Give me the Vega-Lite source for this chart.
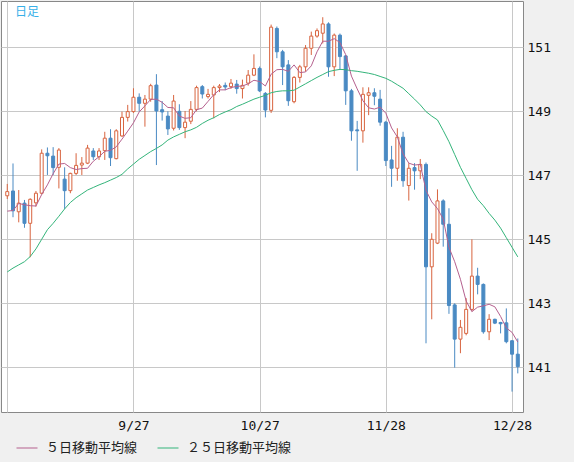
{
  "$schema": "https://vega.github.io/schema/vega-lite/v6.json",
  "width": 522,
  "height": 411,
  "autosize": {"type": "none"},
  "padding": {"left": 1, "top": 1, "right": 51, "bottom": 50},
  "background": "#f0f0f0",
  "title": {"text": "日足", "anchor": "start", "frame": "group", "orient": "bottom", "baseline": "top", "offset": -448, "dx": 14, "font": "Noto Sans CJK JP", "fontSize": 12, "fontWeight": "normal", "color": "#38b0e8"},
  "config": {
    "view": {"fill": "#ffffff", "stroke": "#888888", "strokeWidth": 1},
    "axis": {"domain": false, "ticks": false, "tickSize": 0, "grid": true, "gridColor": "#c8c8c8", "gridWidth": 1, "labelFont": "DejaVu Sans Mono", "labelFontSize": 13, "labelColor": "#111111", "labelOverlap": false}
  },
  "data": {"values": [
    {"d":"8/28","o":146.36,"h":146.73,"l":146.26,"c":146.49,"ma5":145.88,"ma25":143.98},
    {"d":"8/29","o":146.51,"h":147.37,"l":145.69,"c":145.89,"ma5":145.90,"ma25":144.10},
    {"d":"8/30","o":145.86,"h":146.54,"l":145.53,"c":146.13,"ma5":146.12,"ma25":144.20},
    {"d":"8/31","o":146.13,"h":146.23,"l":145.36,"c":145.50,"ma5":146.08,"ma25":144.30},
    {"d":"9/1","o":145.50,"h":146.28,"l":144.44,"c":146.25,"ma5":146.05,"ma25":144.46},
    {"d":"9/4","o":146.14,"h":146.51,"l":146.02,"c":146.44,"ma5":146.04,"ma25":144.70},
    {"d":"9/5","o":146.44,"h":147.81,"l":146.40,"c":147.69,"ma5":146.40,"ma25":145.00},
    {"d":"9/6","o":147.69,"h":147.87,"l":147.01,"c":147.61,"ma5":146.70,"ma25":145.30},
    {"d":"9/7","o":147.60,"h":147.88,"l":147.01,"c":147.24,"ma5":147.05,"ma25":145.50},
    {"d":"9/8","o":147.25,"h":147.85,"l":146.59,"c":147.79,"ma5":147.35,"ma25":145.72},
    {"d":"9/11","o":146.88,"h":147.25,"l":145.95,"c":146.52,"ma5":147.37,"ma25":145.95},
    {"d":"9/12","o":146.52,"h":147.08,"l":146.44,"c":147.06,"ma5":147.24,"ma25":146.15},
    {"d":"9/13","o":147.06,"h":147.69,"l":147.01,"c":147.31,"ma5":147.18,"ma25":146.30},
    {"d":"9/14","o":147.32,"h":147.57,"l":147.01,"c":147.38,"ma5":147.21,"ma25":146.42},
    {"d":"9/15","o":147.38,"h":147.95,"l":147.35,"c":147.85,"ma5":147.22,"ma25":146.54},
    {"d":"9/18","o":147.76,"h":147.85,"l":147.48,"c":147.58,"ma5":147.44,"ma25":146.62},
    {"d":"9/19","o":147.58,"h":147.85,"l":147.48,"c":147.76,"ma5":147.58,"ma25":146.70},
    {"d":"9/20","o":147.77,"h":148.36,"l":147.48,"c":148.16,"ma5":147.75,"ma25":146.77},
    {"d":"9/21","o":148.16,"h":148.44,"l":147.29,"c":147.55,"ma5":147.78,"ma25":146.85},
    {"d":"9/22","o":147.52,"h":148.44,"l":147.50,"c":148.39,"ma5":147.89,"ma25":146.93},
    {"d":"9/25","o":148.23,"h":148.99,"l":148.20,"c":148.81,"ma5":148.13,"ma25":147.03},
    {"d":"9/26","o":148.81,"h":149.20,"l":148.68,"c":148.99,"ma5":148.38,"ma25":147.20},
    {"d":"9/27","o":148.99,"h":149.72,"l":148.95,"c":149.44,"ma5":148.64,"ma25":147.35},
    {"d":"9/28","o":149.44,"h":149.56,"l":149.00,"c":149.25,"ma5":148.98,"ma25":147.50},
    {"d":"9/29","o":149.25,"h":149.51,"l":148.52,"c":149.38,"ma5":149.17,"ma25":147.62},
    {"d":"10/2","o":149.38,"h":149.86,"l":149.30,"c":149.80,"ma5":149.37,"ma25":147.74},
    {"d":"10/3","o":149.82,"h":150.16,"l":147.32,"c":149.01,"ma5":149.38,"ma25":147.84},
    {"d":"10/4","o":149.05,"h":149.32,"l":148.71,"c":148.98,"ma5":149.28,"ma25":147.95},
    {"d":"10/5","o":148.85,"h":149.00,"l":148.26,"c":148.45,"ma5":149.12,"ma25":148.10},
    {"d":"10/6","o":148.47,"h":149.51,"l":148.40,"c":149.32,"ma5":149.11,"ma25":148.20},
    {"d":"10/9","o":149.00,"h":149.22,"l":148.42,"c":148.49,"ma5":148.85,"ma25":148.28},
    {"d":"10/10","o":148.49,"h":149.01,"l":148.16,"c":148.66,"ma5":148.78,"ma25":148.36},
    {"d":"10/11","o":148.69,"h":149.32,"l":148.60,"c":149.06,"ma5":148.80,"ma25":148.42},
    {"d":"10/12","o":149.06,"h":149.80,"l":149.00,"c":149.74,"ma5":149.05,"ma25":148.50},
    {"d":"10/13","o":149.77,"h":149.82,"l":149.40,"c":149.54,"ma5":149.10,"ma25":148.62},
    {"d":"10/16","o":149.46,"h":149.70,"l":149.40,"c":149.53,"ma5":149.31,"ma25":148.72},
    {"d":"10/17","o":149.51,"h":149.80,"l":148.78,"c":149.74,"ma5":149.52,"ma25":148.80},
    {"d":"10/18","o":149.74,"h":149.85,"l":149.60,"c":149.79,"ma5":149.67,"ma25":148.90},
    {"d":"10/19","o":149.81,"h":149.90,"l":149.66,"c":149.76,"ma5":149.67,"ma25":148.98},
    {"d":"10/20","o":149.77,"h":150.01,"l":149.70,"c":149.88,"ma5":149.74,"ma25":149.05},
    {"d":"10/23","o":149.85,"h":149.98,"l":149.55,"c":149.71,"ma5":149.78,"ma25":149.15},
    {"d":"10/24","o":149.71,"h":149.99,"l":149.40,"c":149.81,"ma5":149.79,"ma25":149.22},
    {"d":"10/25","o":149.88,"h":150.29,"l":149.80,"c":150.13,"ma5":149.86,"ma25":149.30},
    {"d":"10/26","o":150.13,"h":150.78,"l":150.10,"c":150.34,"ma5":149.97,"ma25":149.38},
    {"d":"10/27","o":150.34,"h":150.40,"l":149.60,"c":149.64,"ma5":149.93,"ma25":149.44},
    {"d":"10/30","o":149.56,"h":149.60,"l":148.81,"c":149.04,"ma5":149.79,"ma25":149.50},
    {"d":"10/31","o":149.03,"h":151.71,"l":148.95,"c":151.63,"ma5":150.16,"ma25":149.58},
    {"d":"11/1","o":151.59,"h":151.65,"l":150.66,"c":150.86,"ma5":150.30,"ma25":149.62},
    {"d":"11/2","o":150.86,"h":150.92,"l":149.82,"c":150.39,"ma5":150.31,"ma25":149.64},
    {"d":"11/3","o":150.45,"h":150.60,"l":149.17,"c":149.33,"ma5":150.25,"ma25":149.64},
    {"d":"11/6","o":149.30,"h":150.10,"l":149.25,"c":150.06,"ma5":150.45,"ma25":149.66},
    {"d":"11/7","o":150.06,"h":150.45,"l":149.90,"c":150.39,"ma5":150.21,"ma25":149.76},
    {"d":"11/8","o":150.39,"h":151.07,"l":150.24,"c":150.97,"ma5":150.23,"ma25":149.86},
    {"d":"11/9","o":150.97,"h":151.49,"l":150.76,"c":151.35,"ma5":150.42,"ma25":149.96},
    {"d":"11/10","o":151.35,"h":151.59,"l":151.30,"c":151.52,"ma5":150.86,"ma25":150.06},
    {"d":"11/13","o":151.44,"h":151.94,"l":151.12,"c":151.73,"ma5":151.19,"ma25":150.15},
    {"d":"11/14","o":151.73,"h":151.78,"l":150.08,"c":150.39,"ma5":151.19,"ma25":150.24},
    {"d":"11/15","o":150.39,"h":151.43,"l":150.10,"c":151.38,"ma5":151.27,"ma25":150.28},
    {"d":"11/16","o":151.38,"h":151.43,"l":150.29,"c":150.71,"ma5":151.15,"ma25":150.31},
    {"d":"11/17","o":150.73,"h":150.76,"l":149.20,"c":149.64,"ma5":150.77,"ma25":150.30},
    {"d":"11/20","o":149.64,"h":149.70,"l":148.08,"c":148.39,"ma5":150.10,"ma25":150.27},
    {"d":"11/21","o":148.42,"h":148.70,"l":147.14,"c":148.39,"ma5":149.70,"ma25":150.25},
    {"d":"11/22","o":148.39,"h":149.75,"l":148.02,"c":149.53,"ma5":149.33,"ma25":150.22},
    {"d":"11/23","o":149.50,"h":149.75,"l":148.88,"c":149.58,"ma5":149.11,"ma25":150.19},
    {"d":"11/24","o":149.58,"h":149.72,"l":149.19,"c":149.47,"ma5":149.07,"ma25":150.15},
    {"d":"11/27","o":149.38,"h":149.67,"l":148.55,"c":148.66,"ma5":149.13,"ma25":150.09},
    {"d":"11/28","o":148.66,"h":148.70,"l":147.29,"c":147.46,"ma5":148.94,"ma25":150.03},
    {"d":"11/29","o":147.48,"h":147.92,"l":146.64,"c":147.22,"ma5":148.48,"ma25":149.94},
    {"d":"11/30","o":147.22,"h":148.47,"l":146.83,"c":148.19,"ma5":148.20,"ma25":149.83},
    {"d":"12/1","o":148.19,"h":148.36,"l":146.64,"c":146.83,"ma5":147.67,"ma25":149.72},
    {"d":"12/4","o":146.68,"h":147.38,"l":146.21,"c":147.22,"ma5":147.38,"ma25":149.55},
    {"d":"12/5","o":147.24,"h":147.38,"l":146.55,"c":147.14,"ma5":147.32,"ma25":149.38},
    {"d":"12/6","o":147.14,"h":147.51,"l":146.88,"c":147.34,"ma5":147.34,"ma25":149.20},
    {"d":"12/7","o":147.34,"h":147.40,"l":141.75,"c":144.14,"ma5":146.53,"ma25":148.99},
    {"d":"12/8","o":144.14,"h":145.19,"l":142.50,"c":145.00,"ma5":146.17,"ma25":148.85},
    {"d":"12/11","o":144.88,"h":146.56,"l":144.85,"c":146.20,"ma5":145.96,"ma25":148.73},
    {"d":"12/12","o":146.20,"h":146.25,"l":144.77,"c":145.47,"ma5":145.63,"ma25":148.40},
    {"d":"12/13","o":145.47,"h":145.97,"l":142.67,"c":142.93,"ma5":144.75,"ma25":148.05},
    {"d":"12/14","o":142.95,"h":143.00,"l":140.99,"c":141.88,"ma5":144.30,"ma25":147.65},
    {"d":"12/15","o":141.88,"h":142.48,"l":141.44,"c":142.25,"ma5":143.75,"ma25":147.25},
    {"d":"12/18","o":142.06,"h":143.16,"l":142.00,"c":142.81,"ma5":143.07,"ma25":146.90},
    {"d":"12/19","o":142.81,"h":145.00,"l":142.75,"c":143.85,"ma5":142.74,"ma25":146.55},
    {"d":"12/20","o":143.85,"h":144.11,"l":143.28,"c":143.59,"ma5":142.88,"ma25":146.25},
    {"d":"12/21","o":143.59,"h":143.62,"l":142.05,"c":142.11,"ma5":142.92,"ma25":146.05},
    {"d":"12/22","o":142.11,"h":142.66,"l":141.85,"c":142.50,"ma5":142.97,"ma25":145.81},
    {"d":"12/25","o":142.50,"h":142.52,"l":142.35,"c":142.38,"ma5":142.89,"ma25":145.60},
    {"d":"12/26","o":142.40,"h":142.42,"l":142.06,"c":142.36,"ma5":142.59,"ma25":145.35},
    {"d":"12/27","o":142.39,"h":142.84,"l":141.75,"c":141.80,"ma5":142.23,"ma25":145.05},
    {"d":"12/28","o":141.83,"h":141.85,"l":140.24,"c":141.41,"ma5":142.09,"ma25":144.75},
    {"d":"12/29","o":141.41,"h":141.90,"l":140.81,"c":141.02,"ma5":141.79,"ma25":144.45}
  ]},
  "encoding": {
    "x": {"field": "d", "type": "ordinal", "sort": null,
      "scale": {"type": "point", "padding": 1.837, "align": 0.546},
      "axis": {"title": null, "values": ["8/28","9/27","10/27","11/28","12/28"], "labelExpr": "datum.value == '8/28' ? '' : datum.value", "labelAngle": 0, "labelPadding": 7}}
  },
  "layer": [
    {
      "mark": {"type": "rule", "strokeWidth": 1},
      "encoding": {
        "y": {"field": "l", "type": "quantitative", "scale": {"domain": [139.603, 152.447], "nice": false, "zero": false},
          "axis": {"title": null, "orient": "right", "values": [141,143,145,147,149,151], "labelPadding": 4}},
        "y2": {"field": "h"},
        "color": {"condition": {"test": "datum.c >= datum.o", "value": "#d8643f"}, "value": "#4a8ac3"}
      }
    },
    {
      "mark": {"type": "bar", "strokeWidth": 1, "size": 3},
      "encoding": {
        "y": {"field": "o", "type": "quantitative", "axis": {"title": null, "orient": "right", "values": [141,143,145,147,149,151], "labelPadding": 4}},
        "y2": {"field": "c"},
        "fill": {"condition": {"test": "datum.c >= datum.o", "value": "#ffffff"}, "value": "#4a8ac3"},
        "stroke": {"condition": {"test": "datum.c >= datum.o", "value": "#d8643f"}, "value": "#4a8ac3"}
      }
    },
    {
      "transform": [{"fold": ["ma25", "ma5"], "as": ["series", "ma"]}],
      "mark": {"type": "line", "strokeWidth": 1},
      "encoding": {
        "y": {"field": "ma", "type": "quantitative", "axis": {"title": null, "orient": "right", "values": [141,143,145,147,149,151], "labelPadding": 4}},
        "color": {"field": "series", "type": "nominal",
          "scale": {"domain": ["ma5", "ma25"], "range": ["#b5608e", "#33b47a"]},
          "legend": {"title": null, "orient": "none", "direction": "horizontal", "legendX": 15, "legendY": 436, "padding": 0,
            "symbolType": "stroke", "symbolSize": 441, "symbolStrokeWidth": 1, "labelOffset": 8, "columnPadding": 17,
            "labelFont": "Noto Sans CJK JP", "labelFontSize": 13, "labelColor": "#222222",
            "labelExpr": "datum.value == 'ma5' ? '５日移動平均線' : '２５日移動平均線'"}
        }
      }
    }
  ]
}
